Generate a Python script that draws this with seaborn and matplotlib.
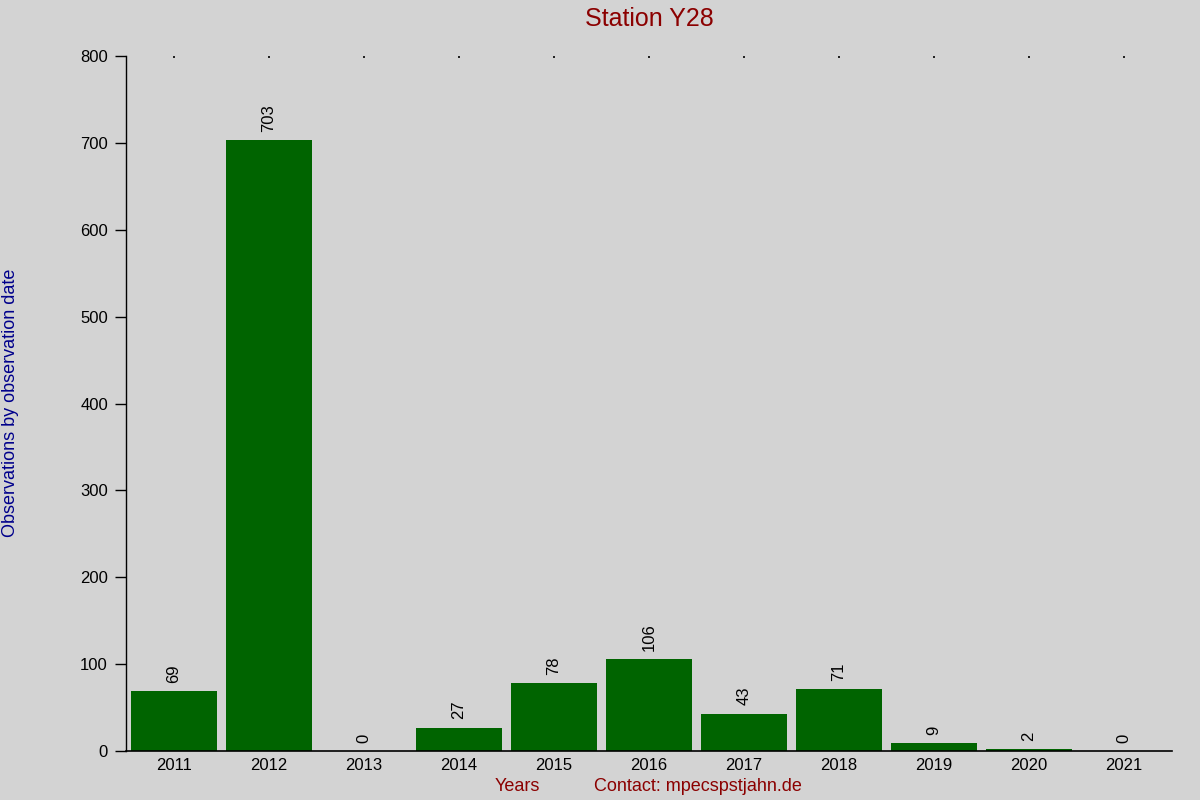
import seaborn as sns
import matplotlib.pyplot as plt
import pandas as pd

years = ['2011', '2012', '2013', '2014', '2015', '2016', '2017', '2018', '2019', '2020', '2021']
counts = [69, 703, 0, 27, 78, 106, 43, 71, 9, 2, 0]

bg = '#d3d3d3'
df = pd.DataFrame({'year': years, 'count': counts})

sns.set_style('ticks')
plt.rcParams['font.family'] = ['Liberation Sans', 'DejaVu Sans']

fig = plt.figure(figsize=(12, 8), dpi=100, facecolor=bg)
ax = fig.add_axes([0.105, 0.06125, 0.8717, 0.86875])
ax.set_facecolor(bg)

sns.barplot(data=df, x='year', y='count', color='#006400', saturation=1,
            width=0.905, linewidth=0, ax=ax)

for i, v in enumerate(counts):
    ax.annotate(str(v), (i, v), xytext=(0, 6), textcoords='offset points',
                rotation=90, ha='center', va='bottom', fontsize=12, color='black')

ax.set_xlim(-0.505, 10.505)
ax.set_ylim(0, 800)
ax.set_yticks(range(0, 801, 100))

for s in ['top', 'right']:
    ax.spines[s].set_visible(False)
ax.spines['left'].set_color('black')
ax.spines['bottom'].set_color('black')
ax.spines['left'].set_linewidth(1)
ax.spines['bottom'].set_linewidth(1.2)

ax.tick_params(axis='y', length=8, width=1, labelsize=12, pad=5, colors='black')
ax.tick_params(axis='x', bottom=False, top=True, direction='in', length=1.2, width=1.2,
               labelsize=12, pad=5, colors='black')

ax.set_xlabel('')
ax.set_ylabel('')
fig.text(0.541, 0.976, 'Station Y28', ha='center', va='center', fontsize=18, color='#8b0000')
fig.text(0.431, 0.017, 'Years', ha='center', va='center', fontsize=13, color='#8b0000')
fig.text(0.5817, 0.017, 'Contact: mpecspstjahn.de', ha='center', va='center', fontsize=13,
         color='#8b0000')
fig.text(0.009, 0.497, 'Observations by observation date', rotation=90, ha='center',
         va='center', fontsize=13, color='#00008b')

fig.savefig('out.png', dpi=100, facecolor=bg)
